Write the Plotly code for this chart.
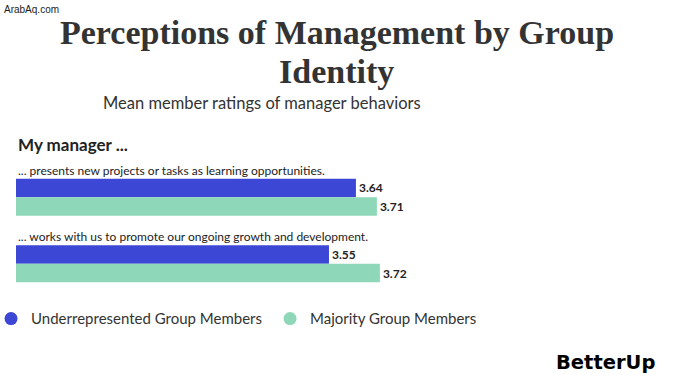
import plotly.graph_objects as go

categories = [
    "... presents new projects or tasks as learning opportunities.",
    "... works with us to promote our ongoing growth and development.",
]
series_names = ["Underrepresented Group Members", "Majority Group Members"]
underrep_values = [3.64, 3.55]
majority_values = [3.71, 3.72]
colors = ["#3c47d5", "#8ed8b9"]
axis_start = 2.505

fig = go.Figure()
for name, vals, col in zip(series_names, [underrep_values, majority_values], colors):
    fig.add_trace(go.Bar(
        y=categories, x=vals, orientation="h", name=name,
        marker=dict(color=col, line=dict(width=0)),
        text=[f"{v:.2f}" for v in vals], textposition="outside",
        textfont=dict(family="Lato", size=12, color="#222"),
        texttemplate="<b>%{text}</b>", cliponaxis=False,
        showlegend=False, hoverinfo="skip",
    ))
    fig.add_trace(go.Scatter(
        x=[None], y=[None], mode="markers", name=name,
        marker=dict(symbol="circle", size=13, color=col), showlegend=True,
    ))

for c in categories:
    fig.add_annotation(x=0, xref="paper", y=c, yref="y", yshift=27, text=c,
                       showarrow=False, xanchor="left", yanchor="middle",
                       font=dict(family="Lato", size=12, color="#222"))

fig.update_layout(
    width=675, height=375,
    margin=dict(l=15.5, r=59.5, t=164, b=78, autoexpand=False),
    paper_bgcolor="white", plot_bgcolor="white",
    barmode="group", bargap=0.44, bargroupgap=0.0,
    xaxis=dict(range=[axis_start, axis_start + 2], visible=False, showgrid=False),
    yaxis=dict(type="category", range=[1.5, -0.5], visible=False, showgrid=False),
    legend=dict(orientation="h", x=-25 / 600, y=-0.04, xanchor="left", yanchor="top",
                font=dict(family="Lato", size=15, color="#333"),
                itemwidth=30, entrywidth=234, entrywidthmode="pixels",
                bgcolor="rgba(0,0,0,0)"),
    showlegend=True,
)

title_font = dict(family="Liberation Serif", size=34, color="#333")
cx = (337.5 - 16) / 600
fig.add_annotation(xref="paper", yref="paper", x=cx, y=1,
                   yshift=164 - 32, text="<b>Perceptions of Management by Group</b>",
                   showarrow=False, xanchor="center", yanchor="middle", font=title_font)
fig.add_annotation(xref="paper", yref="paper", x=cx, y=1,
                   yshift=164 - 71, text="<b>Identity</b>",
                   showarrow=False, xanchor="center", yanchor="middle", font=title_font)
fig.add_annotation(xref="paper", yref="paper", x=(262 - 16) / 600, y=1,
                   yshift=164 - 103, text="Mean member ratings of manager behaviors",
                   showarrow=False, xanchor="center", yanchor="middle",
                   font=dict(family="Lato", size=16.5, color="#333"))
fig.add_annotation(xref="paper", yref="paper", x=0, y=1,
                   yshift=164 - 144, text="<b>My manager ...</b>",
                   showarrow=False, xanchor="left", yanchor="middle",
                   font=dict(family="Lato", size=17, color="#222"))
fig.add_annotation(xref="paper", yref="paper", x=(2 - 16) / 600, y=1,
                   yshift=164 - 9, text="ArabAq.com",
                   showarrow=False, xanchor="left", yanchor="middle",
                   font=dict(family="Liberation Sans", size=10, color="#222"))
fig.add_annotation(xref="paper", yref="paper", x=(658 - 16) / 600, y=0,
                   yshift=-(362 - 297), text="<b>BetterUp</b>",
                   showarrow=False, xanchor="right", yanchor="middle",
                   font=dict(family="DejaVu Sans", size=19.5, color="#000"))

fig.write_html("out.html", config={"displayModeBar": False},
               post_script="document.body.style.margin='0';document.body.style.overflow='hidden';")
